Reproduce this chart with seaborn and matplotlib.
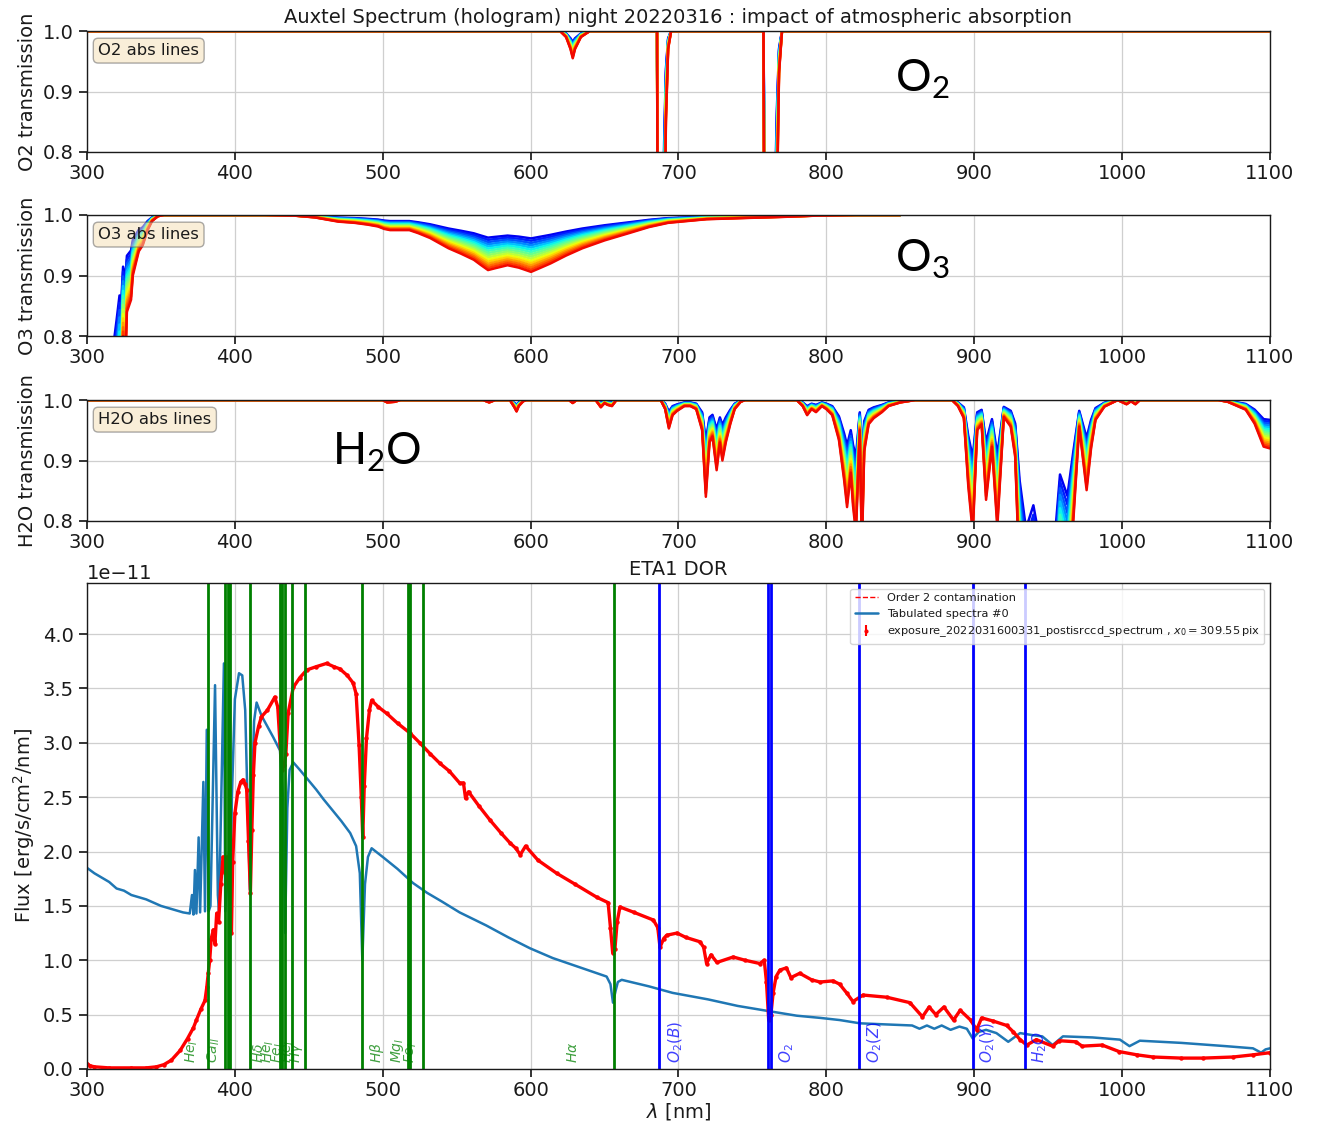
import numpy as np
import pandas as pd
import matplotlib
matplotlib.use("Agg")
import matplotlib.pyplot as plt
import seaborn as sns
from matplotlib.lines import Line2D

# ---------------- data ----------------
airmasses = [1.0, 1.1, 1.2, 1.3, 1.4, 1.5, 1.6, 1.7, 1.8, 1.9, 2.0, 2.1, 2.2, 2.3, 2.4, 2.5]

# transmission at the highest airmass (bottom red curve)
o2_lam = [300, 620, 624, 627, 628.5, 630, 634, 640, 685.5, 686.3, 689, 690.3, 691.5, 693, 695,
          757.5, 758.5, 763, 765, 766.5, 768, 770, 1100]
o2_T = [1.0, 1.0, 0.99, 0.97, 0.955, 0.97, 0.99, 1.0, 1.0, 0.3, 0.3, 0.6, 0.85, 0.97, 1.0,
        1.0, 0.3, 0.1, 0.4, 0.7, 0.93, 1.0, 1.0]

o3_lam = [300, 310, 318, 320, 322, 323, 324.4, 326, 327, 329.8, 331, 333, 335, 337.7, 341, 344, 348, 352,
          420, 440, 454, 470, 481, 490, 496.8, 501, 505, 512, 518, 524, 532, 544.5, 553, 561.6, 566,
          571.2, 576, 584.4, 592, 600.3, 606, 613.5, 624, 635, 650, 666.5, 680, 693, 719, 745, 772.7,
          793.8, 820, 850]
o3_T = [0.1, 0.3, 0.55, 0.62, 0.70, 0.66, 0.80, 0.76, 0.84, 0.86, 0.90, 0.92, 0.94, 0.95, 0.975, 0.99, 0.998, 1.0,
        1.0, 0.999, 0.996, 0.989, 0.987, 0.984, 0.981, 0.977, 0.975, 0.975, 0.975, 0.970, 0.962, 0.945, 0.936,
        0.926, 0.918, 0.909, 0.912, 0.917, 0.913, 0.906, 0.912, 0.920, 0.933, 0.945, 0.958, 0.970, 0.980,
        0.987, 0.993, 0.995, 0.997, 0.999, 1.0, 1.0]

h2o_lam = [300, 500, 503, 508, 512, 568, 572, 576, 586, 589, 590.5, 592, 595, 597, 626, 628.5, 631,
           644, 647.5, 650, 652, 655, 658, 688, 691, 693.5, 696, 699, 704, 708, 712, 716, 718.5, 721,
           723, 725.8, 728, 729.7, 732, 735, 738, 742, 745, 780, 784, 787, 790, 793, 797, 800, 804,
           808.5, 812, 814, 816.5, 818, 820, 822.6, 824, 825.6, 828.6, 832, 837.6, 842, 850, 860, 885,
           889, 893, 896, 899, 902, 905, 908, 912, 915.6, 920, 924.7, 927.7, 930.7, 935, 940, 945, 950,
           955, 958, 963, 967, 971, 976, 979, 982, 988, 997, 1003, 1006, 1009, 1012, 1065, 1071.5, 1078,
           1083.6, 1089.6, 1095.7, 1100]
h2o_T = [1.0, 1.0, 0.996, 0.997, 1.0, 1.0, 0.996, 1.0, 1.0, 0.988, 0.981, 0.99, 0.998, 1.0, 1.0, 0.995, 1.0,
         1.0, 0.988, 0.995, 0.992, 0.99, 1.0, 1.0, 0.985, 0.953, 0.975, 0.982, 0.99, 0.99, 0.985, 0.95, 0.84, 0.93,
         0.94, 0.884, 0.93, 0.90, 0.93, 0.96, 0.985, 0.997, 1.0, 1.0, 0.99, 0.975, 0.985, 0.98, 0.99, 0.985, 0.975,
         0.934, 0.868, 0.823, 0.88, 0.826, 0.78, 0.95, 0.75, 0.915, 0.96, 0.97, 0.98, 0.99, 0.996, 1.0, 1.0,
         0.99, 0.97, 0.857, 0.78, 0.95, 0.96, 0.835, 0.923, 0.79, 0.972, 0.956, 0.906, 0.70, 0.55, 0.62, 0.50, 0.50,
         0.55, 0.72, 0.65, 0.80, 0.956, 0.851, 0.92, 0.967, 0.989, 1.0, 0.993, 0.998, 0.993, 1.0, 1.0, 0.997, 0.99,
         0.984, 0.961, 0.923, 0.92]

# tabulated spectrum (units of 1e-11 erg/s/cm2/nm)
tab_lam = [300, 305, 310, 315, 320, 325, 330, 335, 340, 345, 350, 355, 360, 365, 369.5,
           371, 372, 373, 374, 375.5, 376.5, 378.7, 379.8, 381, 382.3, 383.5, 386.6, 388.5, 389.3, 392.6,
           393.5, 396, 396.9, 398, 400, 402.8, 405, 407, 408.5, 410.2, 411.5, 413, 414.7, 418, 422, 426,
           430.5, 432.5, 434, 435.5, 437, 439.5, 444, 449.5, 455, 460, 466, 472, 478, 482, 484.5, 486.2,
           488, 490, 492.5, 500, 510, 520.5, 530, 540, 552, 570, 585, 599.6, 615, 630, 645, 651.4, 654,
           655.7, 657.5, 659, 661.6, 680, 696, 720, 740, 762, 780, 795.7, 809, 822.7, 840, 858, 863, 868,
           873, 878, 884, 890, 895, 899, 903, 908, 915, 923, 931, 940, 946, 953, 960, 980, 998.5, 1005,
           1012, 1040, 1070, 1088.5, 1094, 1097, 1100]
tab_flux = [1.85, 1.80, 1.76, 1.72, 1.66, 1.64, 1.60, 1.58, 1.56, 1.53, 1.50, 1.48, 1.46, 1.44, 1.43,
            1.60, 1.42, 1.83, 1.43, 2.13, 1.44, 2.64, 1.45, 3.12, 1.45, 1.50, 3.53, 1.60, 1.45, 3.73,
            1.45, 2.00, 1.45, 2.50, 3.40, 3.64, 3.62, 3.30, 2.50, 1.65, 2.50, 3.20, 3.37, 3.25, 3.15, 3.05,
            2.93, 2.50, 1.25, 2.40, 2.75, 2.82, 2.75, 2.66, 2.57, 2.48, 2.38, 2.28, 2.17, 2.05, 1.80, 1.00,
            1.70, 1.95, 2.03, 1.95, 1.84, 1.71, 1.62, 1.54, 1.44, 1.32, 1.21, 1.11, 1.02, 0.95, 0.88, 0.85, 0.78,
            0.61, 0.72, 0.80, 0.82, 0.76, 0.70, 0.64, 0.58, 0.53, 0.49, 0.47, 0.45, 0.42, 0.41, 0.40, 0.37, 0.40,
            0.37, 0.40, 0.36, 0.39, 0.37, 0.28, 0.34, 0.36, 0.33, 0.25, 0.33, 0.31, 0.30, 0.22, 0.30, 0.29, 0.27, 0.21,
            0.26, 0.24, 0.21, 0.19, 0.15, 0.18, 0.19]

# measured spectrum (units of 1e-11 erg/s/cm2/nm)
spec_lam = [300, 302, 305, 315, 330, 340, 347, 352, 357, 363, 368, 372, 374, 377, 379.8, 381, 382, 383,
            384, 385.5, 386.5, 387.7, 389, 390.5, 392, 393.5, 394.5, 395.5, 396.5, 397.7, 398.5, 400, 402,
            404, 405.5, 407, 408, 409.2, 410.5, 411.5, 412.5, 413.6, 416, 418, 422, 427, 429, 430.5, 432,
            433.5, 434.5, 436, 439.5, 444, 448.6, 455, 462, 467, 471, 476, 480, 482, 484, 485.5, 486.5,
            487.5, 489, 491, 492.5, 497, 502.7, 510, 518.4, 525, 532, 538.7, 545, 552, 554.6, 556, 558,
            565, 572.5, 580, 586, 590, 593, 596.6, 605, 617.6, 630, 644.7, 652.4, 654, 655.5, 657, 658.5,
            660.4, 670, 683, 686, 687.5, 690, 692, 699, 705, 714.5, 717, 719, 722, 726, 737, 745, 755,
            758, 759.5, 761, 762.5, 764, 766, 768.6, 773, 776, 782, 790, 795.7, 804.5, 809, 813.7, 818,
            824.8, 840.8, 856.5, 865, 869.5, 874, 879.5, 886, 890.5, 897.5, 901.6, 905, 913, 922, 926.5,
            931, 935.5, 942, 953, 957.5, 968.6, 973, 986.5, 998, 1010, 1021, 1040, 1054.6, 1075, 1088.5, 1100]
spec_flux = [0.05, 0.03, 0.02, 0.01, 0.01, 0.01, 0.02, 0.04, 0.08, 0.17, 0.28, 0.38, 0.45, 0.55, 0.63, 0.75,
             0.88, 1.00, 1.20, 1.28, 1.15, 1.43, 1.35, 1.70, 1.95, 1.80, 1.95, 1.74, 1.60, 1.25, 1.90, 2.35,
             2.55, 2.64, 2.66, 2.62, 2.57, 2.10, 1.62, 2.20, 2.70, 3.00, 3.15, 3.24, 3.30, 3.42, 3.33, 3.00,
             2.75, 2.80, 2.90, 3.27, 3.51, 3.60, 3.67, 3.70, 3.73, 3.70, 3.68, 3.62, 3.55, 3.45, 2.98, 2.50,
             2.13, 2.60, 3.04, 3.30, 3.39, 3.33, 3.27, 3.18, 3.09, 3.00, 2.90, 2.81, 2.74, 2.63, 2.63, 2.49,
             2.55, 2.42, 2.29, 2.17, 2.08, 2.03, 1.97, 2.05, 1.92, 1.80, 1.70, 1.58, 1.53, 1.30, 1.07, 1.10,
             1.35, 1.49, 1.44, 1.37, 1.30, 1.12, 1.20, 1.23, 1.25, 1.21, 1.17, 1.12, 0.97, 1.05, 0.98, 1.03,
             1.00, 0.97, 1.00, 0.80, 0.45, 0.50, 0.70, 0.85, 0.91, 0.93, 0.84, 0.88, 0.82, 0.80, 0.81, 0.78,
             0.70, 0.62, 0.68, 0.66, 0.61, 0.48, 0.57, 0.50, 0.57, 0.45, 0.54, 0.45, 0.36, 0.47, 0.44, 0.40,
             0.34, 0.27, 0.22, 0.27, 0.21, 0.26, 0.25, 0.21, 0.22, 0.16, 0.13, 0.11, 0.10, 0.10, 0.11, 0.13, 0.15]

# stellar lines (green) and atmospheric lines (blue)
star_lines = [381.6, 393.4, 395.6, 396.9, 410.2, 430.5, 432.0, 434.2, 438.8, 447.1, 486.3, 517.3, 518.4, 527.4, 656.3]
star_labels = ["$He_{I}$", "$Ca_{II}$", "$H\\delta$", "$He_{I}$", "$Fe_{I}$", "$He_{I}$", "$H\\gamma$",
               "$H\\beta$", "$Mg_{I}$", "$Fe_{I}$", "$H\\alpha$"]
star_label_pos = [371, 386, 416, 422.5, 429, 435.5, 442, 496, 510, 519, 629]
atm_lines = [686.8, 760.5, 762.6, 822.3, 899.0, 934.3]
atm_labels = ["$O_2(B)$", "$O_2$", "$O_2(Z)$", "$O_2(Y)$", "$H_2 O$"]
atm_label_pos = [698, 773, 833, 909, 944]

# ---------------- style ----------------
sns.set_theme(style="ticks")
plt.rcParams.update({
    "font.family": ["DejaVu Sans"],
    "axes.edgecolor": "0.1",
    "axes.linewidth": 1.0,
    "xtick.labelsize": 14,
    "ytick.labelsize": 14,
    "axes.labelsize": 14,
    "xtick.color": "0.1",
    "ytick.color": "0.1",
    "axes.labelcolor": "0.1",
    "text.color": "0.1",
    "xtick.major.pad": 2.5,
})

fig = plt.figure(figsize=(13.24, 11.25), dpi=100)
L, W = 0.0657, 0.8935
ax1 = fig.add_axes([L, 0.8649, W, 0.1075])
ax2 = fig.add_axes([L, 0.7013, W, 0.1076])
ax3 = fig.add_axes([L, 0.5369, W, 0.1075])
ax4 = fig.add_axes([L, 0.0498, W, 0.4320])

cols = plt.get_cmap("jet")(np.linspace(0.1, 0.9, len(airmasses)))
palette = {am: cols[i] for i, am in enumerate(airmasses)}
am_max = max(airmasses)


def trans_panel(ax, lam, T, ylabel, boxtext):
    lam = np.asarray(lam, float)
    T = np.asarray(T, float)
    frames = [pd.DataFrame({"lam": lam, "T": T ** (am / am_max), "airmass": am}) for am in airmasses]
    df = pd.concat(frames, ignore_index=True)
    sns.lineplot(data=df, x="lam", y="T", hue="airmass", palette=palette, estimator=None,
                 legend=False, lw=1.8, ax=ax)
    ax.set_xlim(300, 1100)
    ax.set_ylim(0.8, 1.0)
    ax.set_yticks([0.8, 0.9, 1.0])
    ax.set_xticks(range(300, 1101, 100))
    ax.grid(True, color="#cfcfcf", lw=0.9)
    ax.set_axisbelow(True)
    ax.set_xlabel("")
    ax.set_ylabel(ylabel, fontsize=14)
    ax.text(0.0095, 0.9, boxtext, transform=ax.transAxes, fontsize=11.8, va="top", ha="left",
            bbox=dict(boxstyle="round", facecolor="wheat", edgecolor="0.35", alpha=0.5))


trans_panel(ax1, o2_lam, o2_T, "O2 transmission", "O2 abs lines")
trans_panel(ax2, o3_lam, o3_T, "O3 transmission", "O3 abs lines")
trans_panel(ax3, h2o_lam, h2o_T, "H2O transmission", "H2O abs lines")
ax1.set_title("Auxtel Spectrum (hologram) night 20220316 : impact of atmospheric absorption", fontsize=14)

big = dict(fontsize=32, family="Lato", color="black", va="baseline", ha="left")
ax1.text(846.4, 0.899, "O$_\\mathregular{2}$", **big)
ax2.text(846.4, 0.906, "O$_\\mathregular{3}$", **big)
ax3.text(465.7, 0.893, "H$_\\mathregular{2}$O", **big)

# ---------------- bottom spectrum ----------------
scale = 1e-11
spec_y = np.asarray(spec_flux) * scale
tab_y = np.asarray(tab_flux) * scale
sns.lineplot(x=spec_lam, y=spec_y, color="red", lw=1.0, linestyle="--", sort=False, ax=ax4)
sns.lineplot(x=tab_lam, y=tab_y, color="#1f77b4", lw=1.8, sort=False, ax=ax4)
sns.lineplot(x=spec_lam, y=spec_y, color="red", lw=2.4, sort=False, ax=ax4)
ax4.plot(spec_lam, spec_y, "o", color="red", ms=2.2)

for wl in star_lines:
    ax4.axvline(wl, color="green", lw=2)
for wl in atm_lines:
    ax4.axvline(wl, color="blue", lw=2)
for x, lab in zip(star_label_pos, star_labels):
    ax4.text(x, 0.012, lab, transform=ax4.get_xaxis_transform(), rotation=90, color="green",
             alpha=0.75, fontsize=10, ha="center", va="bottom")
for x, lab in zip(atm_label_pos, atm_labels):
    ax4.text(x, 0.012, lab, transform=ax4.get_xaxis_transform(), rotation=90, color="blue",
             alpha=0.75, fontsize=11, ha="center", va="bottom")

ax4.set_xlim(300, 1100)
ax4.set_ylim(0, 4.47e-11)
ax4.set_xticks(range(300, 1101, 100))
ax4.set_yticks(np.arange(0, 4.01e-11, 0.5e-11))
ax4.grid(True, color="#cfcfcf", lw=0.9)
ax4.set_axisbelow(True)
ax4.set_title("ETA1 DOR", fontsize=14)
ax4.set_xlabel("$\\lambda$ [nm]", fontsize=14, labelpad=1)
ax4.set_ylabel("Flux [erg/s/cm$^2$/nm]", fontsize=14)
ax4.yaxis.get_offset_text().set_fontsize(14)

eb = ax4.errorbar([], [], yerr=[], fmt="o", color="red", ms=2, elinewidth=1.5)
handles = [Line2D([], [], color="red", ls="--", lw=1.0),
           Line2D([], [], color="#1f77b4", lw=1.8),
           eb]
labels = ["Order 2 contamination", "Tabulated spectra #0",
          "exposure_2022031600331_postisrccd_spectrum , $x_0 = 309.55\\,$pix"]
ax4.legend(handles, labels, loc="upper right", fontsize=8.2, framealpha=0.8)

fig.savefig("out.png", dpi=100)
